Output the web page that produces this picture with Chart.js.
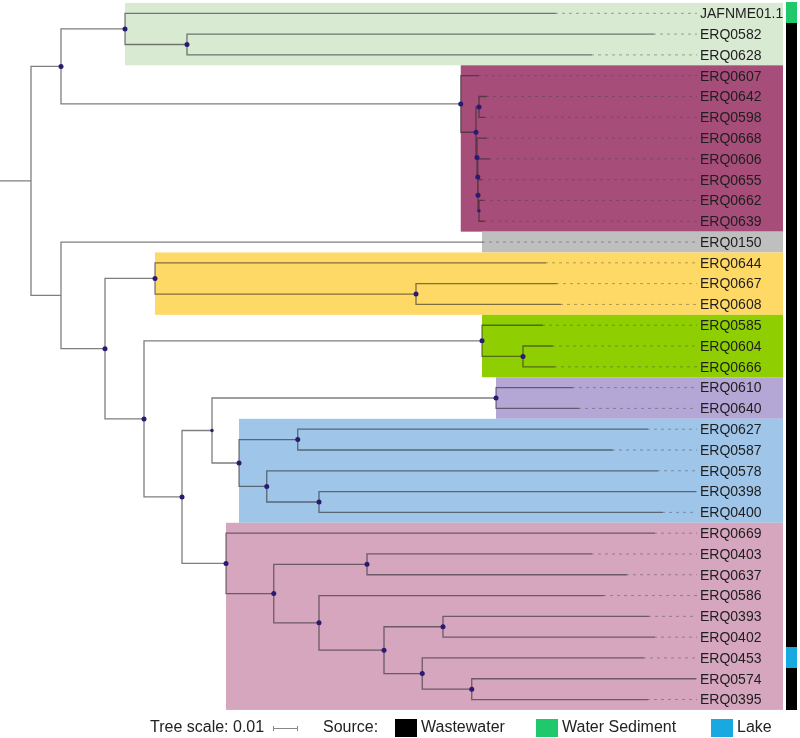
<!DOCTYPE html>
<html><head><meta charset="utf-8">
<script src="https://cdn.jsdelivr.net/npm/chart.js@4.4.1/dist/chart.umd.min.js"></script>
<style>html,body{margin:0;padding:0;background:#fff}#wrap{width:800px;height:738px;position:relative}</style>
</head><body><div id="wrap"><canvas id="c" width="800" height="738"></canvas></div>
<script>
// ---- DATA ----
const leafNames = ['JAFNME01.1','ERQ0582','ERQ0628','ERQ0607','ERQ0642','ERQ0598','ERQ0668','ERQ0606','ERQ0655','ERQ0662','ERQ0639','ERQ0150','ERQ0644','ERQ0667','ERQ0608','ERQ0585','ERQ0604','ERQ0666','ERQ0610','ERQ0640','ERQ0627','ERQ0587','ERQ0578','ERQ0398','ERQ0400','ERQ0669','ERQ0403','ERQ0637','ERQ0586','ERQ0393','ERQ0402','ERQ0453','ERQ0574','ERQ0395'];
// distance from the tree origin (substitutions per site)
const leafDepth = [0.2220,0.2612,0.2364,0.1912,0.1944,0.1936,0.1944,0.1956,0.1924,0.1932,0.1936,0.1928,0.2180,0.2224,0.2240,0.2168,0.2208,0.2216,0.2288,0.2312,0.2588,0.2448,0.2628,0.2780,0.2648,0.2616,0.2364,0.2504,0.2412,0.2592,0.2616,0.2572,0.2780,0.2588];
const leafSource = ['Water Sediment','Wastewater','Wastewater','Wastewater','Wastewater','Wastewater','Wastewater','Wastewater','Wastewater','Wastewater','Wastewater','Wastewater','Wastewater','Wastewater','Wastewater','Wastewater','Wastewater','Wastewater','Wastewater','Wastewater','Wastewater','Wastewater','Wastewater','Wastewater','Wastewater','Wastewater','Wastewater','Wastewater','Wastewater','Wastewater','Wastewater','Lake','Wastewater','Wastewater'];
const nodeNames = ['R','A','T','T2','M0','M1','M2','M3','M4','M5','M6','B','C','Y','Y2','D','G','G2','F','E','L','Bl','Bl1','Bl2','Bl3','P','P1','P2','P3','P4','P5','P6','P7'];
const nodeDepth = [0.0124,0.0244,0.0500,0.0748,0.1843,0.1904,0.1916,0.1908,0.1911,0.1912,0.1916,0.0244,0.0420,0.0620,0.1664,0.0576,0.1928,0.2092,0.0728,0.0848,0.1984,0.0956,0.1191,0.1067,0.1276,0.0904,0.1095,0.1468,0.1276,0.1536,0.1772,0.1689,0.1887];
const nodeChildren = [
  ['A','B'], ['T','M0'], ['JAFNME01.1','T2'], ['ERQ0582','ERQ0628'],
  ['ERQ0607','M1'], ['M2','M3'], ['ERQ0642','ERQ0598'], ['ERQ0668','M4'], ['ERQ0606','M5'], ['ERQ0655','M6'], ['ERQ0662','ERQ0639'],
  ['ERQ0150','C'], ['Y','D'], ['ERQ0644','Y2'], ['ERQ0667','ERQ0608'], ['G','F'], ['ERQ0585','G2'], ['ERQ0604','ERQ0666'],
  ['E','P'], ['L','Bl'], ['ERQ0610','ERQ0640'], ['Bl1','Bl2'], ['ERQ0627','ERQ0587'], ['ERQ0578','Bl3'], ['ERQ0398','ERQ0400'],
  ['ERQ0669','P1'], ['P2','P3'], ['ERQ0403','ERQ0637'], ['ERQ0586','P4'], ['P5','P6'], ['ERQ0393','ERQ0402'], ['ERQ0453','P7'], ['ERQ0574','ERQ0395']
];
const nodeSupport = [0,2,2,2,2,2,2,2,2,2,1,0,2,2,2,2,2,2,2,1,2,2,2,2,2,2,2,2,2,2,2,2,2];
const cladeNodes = ['T','M0','ERQ0150','Y','G','L','Bl','P'];
const cladeColors = ['#d9ead3','#a64d79','#bfbfbf','#ffd966','#8fce00','#b4a7d6','#9fc5e8','#d5a6bd'];
const sourceNames = ['Wastewater','Water Sediment','Lake'];
const sourceColors = ['#000000','#1fc86a','#19a9e1'];
const scaleBarLength = 0.01;

// ---- TREE LAYOUT ----
const depth = {}, yPos = {}, kids = {};
leafNames.forEach((n,i)=>{depth[n]=leafDepth[i]; yPos[n]=i;});
nodeNames.forEach((n,i)=>{depth[n]=nodeDepth[i]; kids[n]=nodeChildren[i];});
function getY(n){ if(yPos[n]!==undefined) return yPos[n]; const c=kids[n]; yPos[n]=(getY(c[0])+getY(c[c.length-1]))/2; return yPos[n]; }
nodeNames.forEach(getY);
function leavesOf(n){ if(!kids[n]) return [leafNames.indexOf(n)]; return kids[n].flatMap(leavesOf); }

const GAP = {x:NaN,y:NaN};
const branchPts = [];
branchPts.push({x:0,y:yPos['R']},{x:depth['R'],y:yPos['R']},GAP);
nodeNames.forEach(n=>{
  const c = kids[n];
  branchPts.push({x:depth[n],y:yPos[c[0]]},{x:depth[n],y:yPos[c[c.length-1]]},GAP);
  c.forEach(ch=>branchPts.push({x:depth[n],y:yPos[ch]},{x:depth[ch],y:yPos[ch]},GAP));
});
const DASH_END = 0.2788, LABEL_X = 0.2800, BOX_RIGHT = 0.3132, STRIP_L = 0.3144, STRIP_R = 0.3188;
const dashPts = [];
leafNames.forEach((n,i)=>{ if(leafDepth[i] < DASH_END-0.0005) dashPts.push({x:leafDepth[i],y:i},{x:DASH_END,y:i},GAP); });
const dotPts = [], dotR = [];
nodeNames.forEach((n,i)=>{ if(nodeSupport[i]>0){ dotPts.push({x:depth[n],y:yPos[n]}); dotR.push(nodeSupport[i]===2?2.5:1.7);} });

const treePlugin = {
  id:'tree',
  beforeDatasetsDraw(chart){
    const {ctx, scales:{x,y}} = chart;
    ctx.save();
    cladeNodes.forEach((n,k)=>{
      const lv = leavesOf(n);
      const x0 = x.getPixelForValue(depth[n]), x1 = x.getPixelForValue(BOX_RIGHT);
      const y0 = y.getPixelForValue(Math.min(...lv)-0.5), y1 = y.getPixelForValue(Math.max(...lv)+0.5);
      ctx.fillStyle = cladeColors[k];
      ctx.fillRect(x0, y0, x1-x0, y1-y0);
    });
    leafSource.forEach((s,i)=>{
      const x0 = x.getPixelForValue(STRIP_L), x1 = x.getPixelForValue(STRIP_R);
      const y0 = y.getPixelForValue(i-0.5), y1 = y.getPixelForValue(i+0.5);
      ctx.fillStyle = sourceColors[sourceNames.indexOf(s)];
      ctx.fillRect(x0, Math.floor(y0), x1-x0, Math.ceil(y1)-Math.floor(y0));
    });
    ctx.restore();
  },
  afterDatasetsDraw(chart){
    const {ctx, scales:{x,y}} = chart;
    ctx.save();
    ctx.fillStyle = '#1e1e1e';
    ctx.font = '14px "Liberation Sans", Arial, sans-serif';
    ctx.textBaseline = 'middle';
    leafNames.forEach((n,i)=>ctx.fillText(n, x.getPixelForValue(LABEL_X), y.getPixelForValue(i)+1));
    // legend
    const ly = 728;
    ctx.font = '16px "Liberation Sans", Arial, sans-serif';
    ctx.fillStyle = '#222';
    ctx.fillText('Tree scale: 0.01', 150, ly);
    const sbLen = x.getPixelForValue(scaleBarLength) - x.getPixelForValue(0);
    ctx.strokeStyle = '#888'; ctx.lineWidth = 1;
    ctx.beginPath();
    ctx.moveTo(273, ly+0.5); ctx.lineTo(273+sbLen, ly+0.5);
    ctx.moveTo(273.5, ly-2); ctx.lineTo(273.5, ly+3);
    ctx.moveTo(273+sbLen-0.5, ly-2); ctx.lineTo(273+sbLen-0.5, ly+3);
    ctx.stroke();
    ctx.fillText('Source:', 323, ly);
    const lx = [395, 536, 711];
    sourceNames.forEach((s,k)=>{
      ctx.fillStyle = sourceColors[k];
      ctx.fillRect(lx[k], 719, 22, 18);
      ctx.fillStyle = '#222';
      ctx.fillText(s, lx[k]+26, ly);
    });
    ctx.restore();
  }
};

new Chart(document.getElementById('c'), {
  type:'scatter',
  data:{datasets:[
    {label:'support', data:dotPts, pointRadius:dotR, pointBackgroundColor:'#2b1a73', pointBorderWidth:0, showLine:false},
    {label:'branches', data:branchPts, showLine:true, borderColor:'rgba(40,40,40,0.6)', borderWidth:1.3, pointRadius:0, spanGaps:false, borderCapStyle:'square'},
    {label:'guides', data:dashPts, showLine:true, borderColor:'rgba(70,70,70,0.45)', borderWidth:1, borderDash:[3,4], pointRadius:0, spanGaps:false}
  ]},
  options:{
    responsive:false, animation:false, events:[],
    layout:{padding:0, autoPadding:false},
    plugins:{legend:{display:false}, tooltip:{enabled:false}},
    scales:{
      x:{type:'linear', min:0, max:0.32, display:false},
      y:{type:'linear', min:-0.64, max:34.85, reverse:true, display:false}
    }
  },
  plugins:[treePlugin]
});
</script></body></html>
